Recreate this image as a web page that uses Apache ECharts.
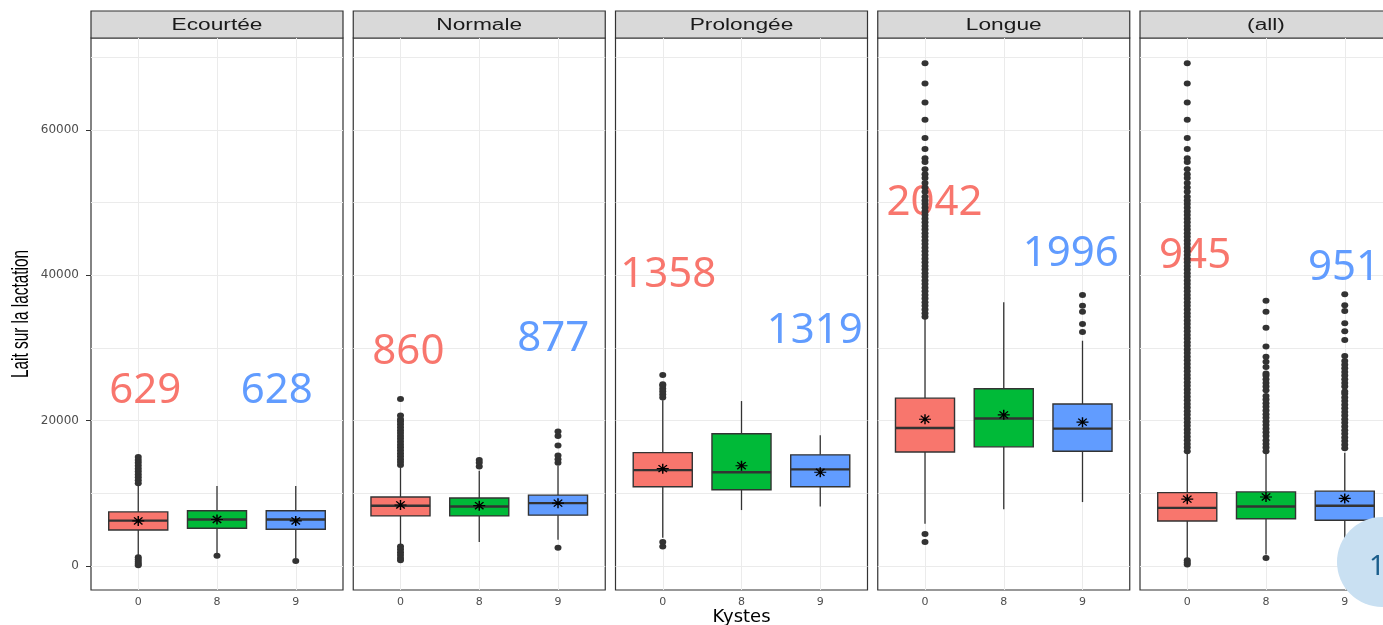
<!DOCTYPE html>
<html>
<head>
<meta charset="utf-8">
<script src="https://cdn.jsdelivr.net/npm/echarts@6/dist/echarts.min.js"></script>
<style>
  html, body { margin: 0; padding: 0; background: #fff; }
  #chart { width: 1383px; height: 625px; }
</style>
</head>
<body>
<div id="chart"></div>
<script>
// facettes (durée de lactation) et modalités de Kystes
const panels = ["Ecourtée", "Normale", "Prolongée", "Longue", "(all)"];
const kystes = ["0", "8", "9"];
const boxColors = ["#F8766D", "#00BA38", "#619CFF"];

// boîtes : [min moustache, Q1, médiane, Q3, max moustache] pour 0 / 8 / 9
const boxEcourtee = [[1300, 4950, 6250, 7450, 11100], [1800, 5200, 6400, 7600, 11000], [1100, 5050, 6400, 7600, 11000]];
const boxNormale = [[3000, 6900, 8300, 9500, 13500], [3300, 6900, 8200, 9350, 13100], [3600, 7000, 8650, 9750, 13800]];
const boxProlongee = [[3900, 10900, 13200, 15600, 22800], [7700, 10500, 12900, 18200, 22700], [8200, 10900, 13300, 15300, 18000]];
const boxLongue = [[5800, 15700, 19000, 23100, 34000], [7800, 16400, 20300, 24400, 36300], [8800, 15800, 18900, 22300, 31000]];
const boxAll = [[800, 6200, 8000, 10100, 15500], [1600, 6500, 8200, 10200, 15500], [2700, 6300, 8300, 10300, 15600]];

// moyennes (astérisques)
const meanEcourtee = [6200, 6400, 6200];
const meanNormale = [8400, 8300, 8650];
const meanProlongee = [13400, 13800, 12900];
const meanLongue = [20200, 20800, 19800];
const meanAll = [9200, 9500, 9300];

// valeurs extrêmes
const outEcourtee = [
  [11400, 11800, 12200, 12600, 13000, 13400, 13800, 14200, 14600, 15000, 1200, 900, 600, 300, 100],
  [1400],
  [700]
];
const outNormale = [
  [13900, 14300, 14700, 15100, 15500, 15900, 16300, 16700, 17100, 17500, 17900, 18300, 18700, 19100,
   19500, 19900, 20200, 20700, 23000, 2700, 2300, 1900, 1500, 1100, 800],
  [13700, 14200, 14600],
  [14200, 14700, 15200, 16600, 17900, 18500, 2500]
];
const outProlongee = [
  [23200, 23600, 24000, 24400, 24800, 25000, 26300, 3300, 2700],
  [],
  []
];
const outLongue = [
  [34300, 34800, 35300, 35800, 36300, 36800, 37300, 37800, 38300, 38800, 39300, 39800, 40300, 40800,
   41300, 41800, 42300, 42800, 43300, 43800, 44300, 44800, 45300, 45800, 46300, 46800, 47300, 47800,
   48300, 48800, 49300, 49800, 50300, 50800, 51500, 52100, 52700, 53400, 53900, 54600, 55600, 56100,
   57400, 58900, 61400, 63800, 66400, 69200, 4400, 3300],
  [],
  [32200, 33300, 35000, 35800, 37300]
];
const outAll = [
  [15800, 16300, 16800, 17300, 17800, 18300, 18800, 19300, 19800, 20300, 20800, 21300, 21800, 22300,
   22800, 23300, 23800, 24300, 24800, 25300, 25800, 26300, 26800, 27300, 27800, 28300, 28800, 29300,
   29800, 30300, 30800, 31300, 31800, 32300, 32800, 33300, 33800, 34300, 34800, 35300, 35800, 36300,
   36800, 37300, 37800, 38300, 38800, 39300, 39800, 40300, 40800, 41300, 41800, 42300, 42800, 43300,
   43800, 44300, 44800, 45300, 45800, 46300, 46800, 47300, 47800, 48300, 48800, 49300, 49800, 50300,
   50800, 51500, 52100, 52700, 53400, 53900, 54600, 55600, 56100, 57400, 58900, 61400, 63800, 66400,
   69200, 800, 500, 200],
  [15800, 16300, 16800, 17300, 17900, 18400, 18900, 19400, 19900, 20400, 20900, 21400, 21900, 22400,
   22900, 23400, 24200, 24700, 25200, 25700, 26200, 26500, 27400, 28100, 28800, 30200, 32800, 35000,
   36500, 1100],
  [16200, 16700, 17200, 17700, 18200, 18700, 19200, 19700, 20200, 20700, 21200, 21700, 22200, 22700,
   23200, 23700, 24000, 24700, 25200, 25700, 26200, 26700, 27200, 27700, 28200, 28900, 31100, 32300,
   33400, 35100, 35900, 37400]
];

// effectifs ajoutés en grand (Kystes 0 et 9)
const countText = [["629", "628"], ["860", "877"], ["1358", "1319"], ["2042", "1996"], ["945", "951"]];
const countAtX = [[1.09, 2.76], [1.10, 2.94], [1.07, 2.93], [1.12, 2.85], [1.10, 2.99]];
const countAtY = [[24100, 24100], [29450, 31300], [40050, 32300], [50000, 43000], [42700, 41000]];
const countColors = ["#F8766D", "#619CFF"];

// axes
const yTicks = [0, 20000, 40000, 60000];
const yGrid = [0, 10000, 20000, 30000, 40000, 50000, 60000, 70000];
const xTicks = [1, 2, 3];

const panelBoxes = [boxEcourtee, boxNormale, boxProlongee, boxLongue, boxAll];
const panelMeans = [meanEcourtee, meanNormale, meanProlongee, meanLongue, meanAll];
const panelOut = [outEcourtee, outNormale, outProlongee, outLongue, outAll];

// mise en page
const PANEL_LEFT = 91;
const PANEL_STEP = 262.25;
const PANEL_W = 252;
const PANEL_TOP = 38;
const PANEL_H = 552;
const STRIP_TOP = 11;
const STRIP_H = 27;
const BOX_W = 0.75;

const ASTERISK = "path://M-0.6,-5L0.6,-5L0.6,5L-0.6,5Z" +
  "M-5,-0.6L5,-0.6L5,0.6L-5,0.6Z" +
  "M-3.11,-3.96L3.96,3.11L3.11,3.96L-3.96,-3.11Z" +
  "M-3.96,3.11L3.11,-3.96L3.96,-3.11L-3.11,3.96Z";

function renderBox(params, api) {
  const x = api.value(0);
  const lo = api.coord([x, api.value(1)]);
  const q1 = api.coord([x, api.value(2)]);
  const md = api.coord([x, api.value(3)]);
  const q3 = api.coord([x, api.value(4)]);
  const hi = api.coord([x, api.value(5)]);
  const w = api.size([BOX_W, 0])[0];
  const fill = boxColors[api.value(6)];
  const line = { stroke: "#333333", lineWidth: 1.3 };
  return {
    type: "group",
    children: [
      { type: "line", shape: { x1: lo[0], y1: lo[1], x2: q1[0], y2: q1[1] }, style: line },
      { type: "line", shape: { x1: q3[0], y1: q3[1], x2: hi[0], y2: hi[1] }, style: line },
      {
        type: "rect",
        shape: { x: q3[0] - w / 2, y: q3[1], width: w, height: q1[1] - q3[1] },
        style: { fill: fill, stroke: "#333333", lineWidth: 1.4 }
      },
      {
        type: "line",
        shape: { x1: md[0] - w / 2, y1: md[1], x2: md[0] + w / 2, y2: md[1] },
        style: { stroke: "#333333", lineWidth: 2.4 }
      }
    ]
  };
}

const grid = [];
const xAxis = [];
const yAxis = [];
const series = [];
const graphic = [];

panels.forEach((name, i) => {
  const left = PANEL_LEFT + i * PANEL_STEP;
  grid.push({
    left: left, top: PANEL_TOP, width: PANEL_W, height: PANEL_H,
    outerBoundsMode: "none", containLabel: false,
    show: true, borderColor: "#333333", borderWidth: 1.2, backgroundColor: "transparent"
  });
  xAxis.push({
    type: "value", gridIndex: i, min: 0.4, max: 3.6,
    axisLine: { show: false },
    splitLine: { show: false },
    axisTick: { show: true, customValues: xTicks, length: 4, lineStyle: { color: "#333333" } },
    axisLabel: {
      show: true, customValues: xTicks, margin: 7,
      formatter: (v) => kystes[Math.round(v) - 1],
      color: "#4D4D4D", fontSize: 11, fontFamily: "DejaVu Sans"
    },
    name: i === 2 ? "Kystes" : "",
    nameLocation: "middle", nameGap: 18, nameMoveOverlap: false,
    nameTextStyle: { fontSize: 18, fontFamily: "DejaVu Sans", color: "#000", verticalAlign: "top" }
  });
  yAxis.push({
    type: "value", gridIndex: i, min: -3300, max: 72660,
    axisLine: { show: false },
    splitLine: { show: false },
    axisTick: { show: i === 0, customValues: yTicks, length: 5, lineStyle: { color: "#333333" } },
    axisLabel: {
      show: i === 0, customValues: yTicks, margin: 12,
      formatter: (v) => String(v),
      color: "#4D4D4D", fontSize: 12, fontFamily: "DejaVu Sans"
    }
  });

  const boxes = panelBoxes[i].map((b, k) => [k + 1, b[0], b[1], b[2], b[3], b[4], k]);
  series.push({
    type: "custom", xAxisIndex: i, yAxisIndex: i, z: 2,
    renderItem: renderBox,
    encode: { x: 0, y: [1, 2, 3, 4, 5] },
    data: boxes
  });

  const outs = [];
  panelOut[i].forEach((vals, k) => vals.forEach((v) => outs.push([k + 1, v])));
  series.push({
    type: "scatter", xAxisIndex: i, yAxisIndex: i, z: 3,
    symbol: "circle", symbolSize: [7, 6],
    itemStyle: { color: "#333333", opacity: 1 },
    data: outs,
    markLine: {
      silent: true, z: 1, symbol: ["none", "none"],
      label: { show: false },
      lineStyle: { color: "#EBEBEB", width: 1, type: "solid" },
      emphasis: { disabled: true },
      data: yGrid.map((v) => ({ yAxis: v })).concat(xTicks.map((v) => ({ xAxis: v })))
    }
  });

  series.push({
    type: "scatter", xAxisIndex: i, yAxisIndex: i, z: 4,
    symbol: ASTERISK, symbolSize: [12, 10],
    itemStyle: { color: "#000000", opacity: 1 },
    data: panelMeans[i].map((m, k) => [k + 1, m])
  });

  series.push({
    type: "scatter", xAxisIndex: i, yAxisIndex: i, z: 2.5,
    symbolSize: 1, itemStyle: { color: "rgba(0,0,0,0)", opacity: 1 },
    label: {
      show: true, position: "inside",
      formatter: (p) => p.value[2],
      fontSize: 42, fontFamily: "Noto Sans"
    },
    data: countText[i].map((t, k) => ({
      value: [countAtX[i][k], countAtY[i][k], t],
      label: { color: countColors[k] }
    }))
  });

  graphic.push({
    type: "rect",
    shape: { x: left, y: STRIP_TOP, width: PANEL_W, height: STRIP_H },
    style: { fill: "#D9D9D9", stroke: "#333333", lineWidth: 1.2 }
  });
  graphic.push({
    type: "text",
    x: left + PANEL_W / 2, y: STRIP_TOP + STRIP_H / 2 + 1,
    scaleX: 1.42,
    style: {
      text: name, fill: "#1A1A1A", fontSize: 16, fontFamily: "Liberation Sans",
      align: "center", verticalAlign: "middle"
    }
  });
});

// titre de l'axe vertical (police étroite)
graphic.push({
  type: "text",
  x: 21, y: 314, rotation: Math.PI / 2, scaleX: 0.64,
  style: {
    text: "Lait sur la lactation", fill: "#000", fontSize: 24, fontFamily: "Liberation Sans",
    align: "center", verticalAlign: "middle"
  }
});

// pastille de numéro de diapositive
graphic.push({
  type: "circle", z: 100,
  shape: { cx: 1382, cy: 562, r: 45 },
  style: { fill: "#C9E0F2" }
});
graphic.push({
  type: "text", z: 101,
  x: 1369, y: 567,
  style: { text: "1", fill: "#1B5E8C", fontSize: 28, fontFamily: "Noto Sans", verticalAlign: "middle" }
});

const chart = echarts.init(document.getElementById("chart"), null, { renderer: "canvas" });
chart.setOption({
  animation: false,
  backgroundColor: "#ffffff",
  grid: grid,
  xAxis: xAxis,
  yAxis: yAxis,
  series: series,
  graphic: graphic
});
</script>
</body>
</html>
